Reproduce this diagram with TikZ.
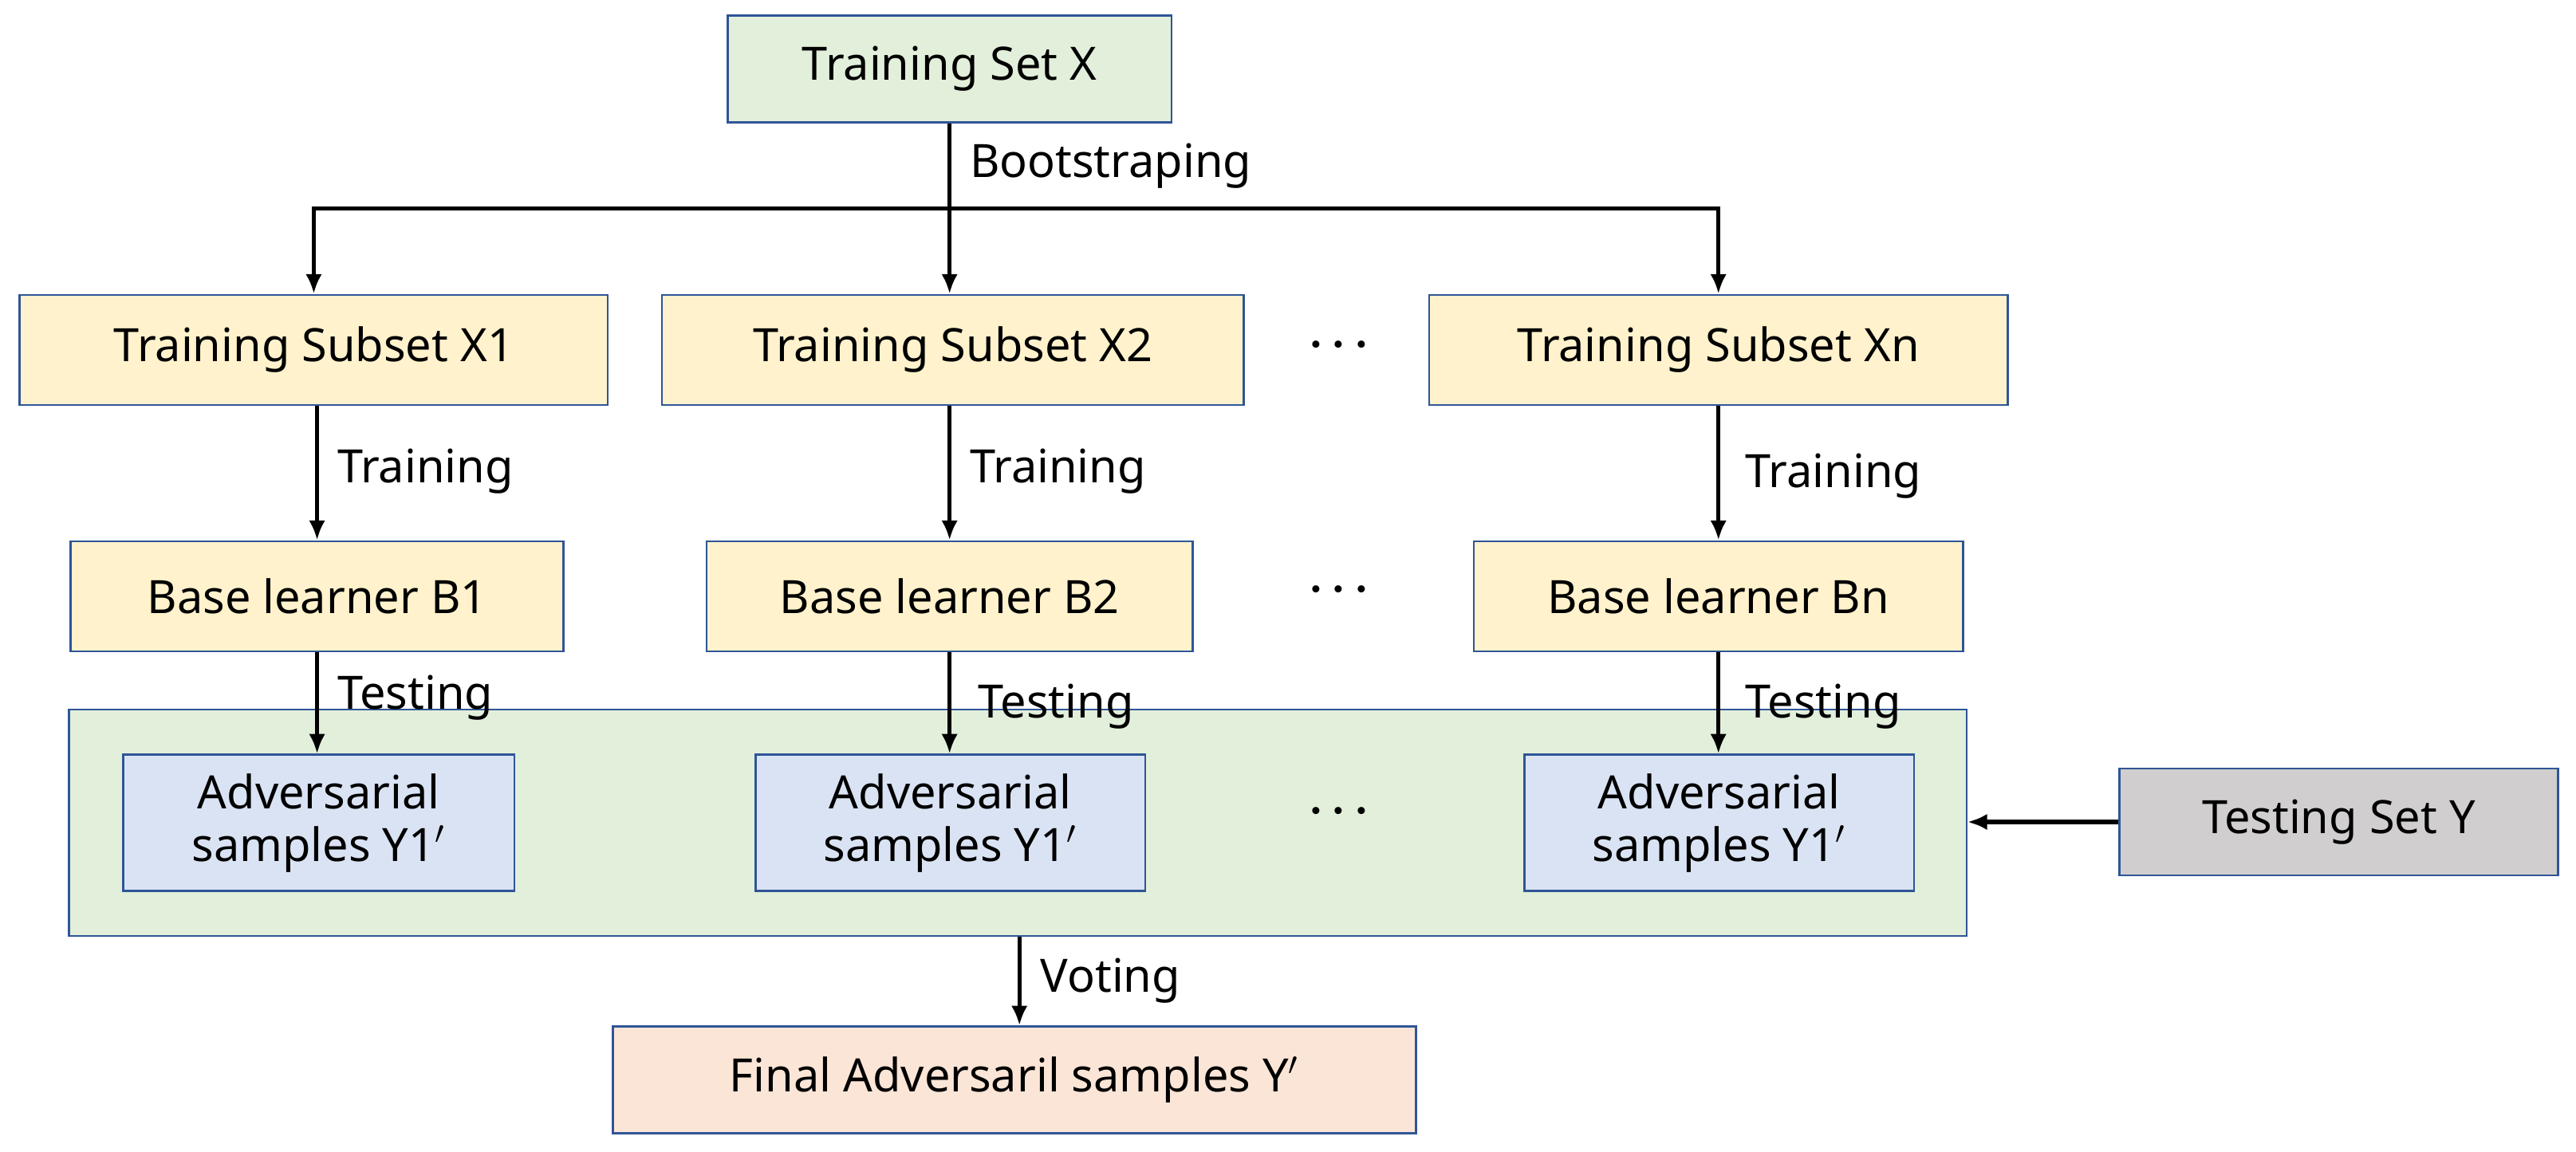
\documentclass[tikz,border=0pt]{standalone}
\usepackage{fontspec}
\setmainfont{Noto Sans}
\usetikzlibrary{arrows.meta}
\definecolor{bd}{HTML}{2F5597}
\definecolor{gr}{HTML}{E2EFDA}
\definecolor{ye}{HTML}{FFF2CC}
\definecolor{bl}{HTML}{DAE3F3}
\definecolor{gy}{HTML}{D0CECE}
\definecolor{pe}{HTML}{FBE5D6}
\begin{document}
\begin{tikzpicture}[x=0.5pt,y=-0.5pt,
 box/.style={draw=bd,line width=0.6pt,font=\fontsize{14}{16}\selectfont\bfseries,align=center,inner sep=0},
 lab/.style={font=\fontsize{14}{16}\selectfont,anchor=west,inner sep=0},
 arr/.style={line width=1.3pt,-{Latex[length=6pt,width=5pt]}},
 dots/.style={font=\fontsize{22}{22}\selectfont\bfseries}]
\useasboundingbox (0,0) rectangle (1568,701);
\node[box,fill=gr,minimum width=135pt,minimum height=32.5pt] (tx) at (578,42) {Training Set X};
\node[box,fill=ye,minimum width=179pt,minimum height=33.5pt] (s1) at (191,213) {Training Subset X1};
\node[box,fill=ye,minimum width=177pt,minimum height=33.5pt] (s2) at (580,213) {Training Subset X2};
\node[box,fill=ye,minimum width=176pt,minimum height=33.5pt] (sn) at (1046,213) {Training Subset Xn};
\node[box,fill=ye,minimum width=150pt,minimum height=33.5pt] (b1) at (193,363) {Base learner B1};
\node[box,fill=ye,minimum width=148pt,minimum height=33.5pt] (b2) at (578,363) {Base learner B2};
\node[box,fill=ye,minimum width=149pt,minimum height=33.5pt] (bn) at (1046,363) {Base learner Bn};
\node[box,fill=gr,minimum width=577.5pt,minimum height=69pt] (big) at (619.5,501) {};
\node[box,fill=bl,minimum width=119pt,minimum height=41.5pt] (a1) at (194,501) {Adversarial\\samples Y1$'$};
\node[box,fill=bl,minimum width=118.5pt,minimum height=41.5pt] (a2) at (578.5,501) {Adversarial\\samples Y1$'$};
\node[box,fill=bl,minimum width=118.5pt,minimum height=41.5pt] (an) at (1046.5,501) {Adversarial\\samples Y1$'$};
\node[box,fill=gy,minimum width=133.5pt,minimum height=32.5pt] (ty) at (1423.5,500.5) {Testing Set Y};
\node[box,fill=pe,minimum width=244.5pt,minimum height=32.5pt] (fy) at (617.5,657.5) {Final Adversaril samples Y$'$};
\node[dots] (d1) at (815,211) {$\cdot\!\cdot\!\cdot$};
\node[dots] at (815,360) {$\cdot\!\cdot\!\cdot$};
\node[dots] at (815,495) {$\cdot\!\cdot\!\cdot$};
\coordinate (j) at (578,127);
\draw[line width=1.3pt] (tx.south) -- (j);
\draw[arr] (j) -| (s1.north);
\draw[arr] (j) -- (s2.north -| j);
\draw[arr] (j) -| (sn.north);
\node[lab] at (590,101) {Bootstraping};
\draw[arr] (s1.south -| b1) -- (b1.north);
\draw[arr] (s2.south -| b2) -- (b2.north);
\draw[arr] (sn.south -| bn) -- (bn.north);
\node[lab] at (205,287) {Training};
\node[lab] at (590,287) {Training};
\node[lab] at (1062,290) {Training};
\draw[arr] (b1.south) -- (b1.south |- a1.north);
\draw[arr] (b2.south) -- (b2.south |- a2.north);
\draw[arr] (bn.south) -- (bn.south |- an.north);
\node[lab] at (205,425) {Testing};
\node[lab] at (595,430) {Testing};
\node[lab] at (1062,430) {Testing};
\draw[arr] (ty.west) -- (ty.west -| big.east);
\draw[arr] (big.south -| fy) ++(3,0) coordinate (v) -- (v |- fy.north);
\node[lab] at (633,597) {Voting};
\end{tikzpicture}
\end{document}
